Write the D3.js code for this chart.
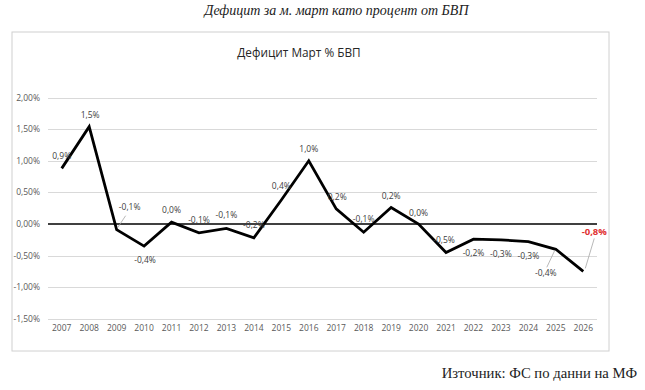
<!DOCTYPE html>
<html><head><meta charset="utf-8">
<script src="https://cdn.jsdelivr.net/npm/d3@7"></script>
<style>
html,body{margin:0;padding:0;background:#fff;}
svg{display:block;}
</style></head>
<body><svg id="c" width="645" height="390"></svg>
<script>
const years = ["2007","2008","2009","2010","2011","2012","2013","2014","2015","2016","2017","2018","2019","2020","2021","2022","2023","2024","2025","2026"];
const deficit = [0.88,1.54,-0.09,-0.35,0.03,-0.14,-0.07,-0.22,0.38,1.0,0.24,-0.13,0.26,0.0,-0.45,-0.24,-0.25,-0.28,-0.40,-0.75];
const valueLabels = ["0,9%","1,5%","-0,1%","-0,4%","0,0%","-0,1%","-0,1%","-0,2%","0,4%","1,0%","0,2%","-0,1%","0,2%","0,0%","-0,5%","-0,2%","-0,3%","-0,3%","-0,4%","-0,8%"];
const yTicks = [2.0,1.5,1.0,0.5,0.0,-0.5,-1.0,-1.5];
const yTickLabels = ["2,00%","1,50%","1,00%","0,50%","0,00%","-0,50%","-1,00%","-1,50%"];
const pageTitle = "Дефицит за м. март като процент от БВП";
const chartTitle = "Дефицит Март % БВП";
const sourceText = "Източник: ФС по данни на МФ";
// label placement offsets (layout only)
const labelOffsets = [[0,-12],[1,-12],[13,-23],[1,14],[0,-12],[0,-13],[0,-13],[0,-13],[0,-14],[0,-12],[1,-12],[0,-13],[0,-12],[0,-11],[-2,-12],[0,14],[0,14],[0,14],[-10,24],[11,-40]];
const leaders = {2:[[1,-2],[9,-14]], 18:[[-1,1],[-9,18]], 19:[[11,-33],[2,-3]]};

const svg = d3.select("#c");
const plotL = 48, plotR = 597, y0 = 224, unit = 63.2;
const x = d3.scaleBand().domain(years).range([plotL, plotR]);
const y = d3.scaleLinear().domain([-1.5, 2.0]).range([y0 + 1.5*unit, y0 - 2.0*unit]);

// page title
svg.append("text").attr("x",336.5).attr("y",15).attr("text-anchor","middle")
  .attr("font-family","Liberation Serif, serif").attr("font-style","italic").attr("font-size",14)
  .attr("fill","#222").text(pageTitle);

// chart box
svg.append("rect").attr("x",12).attr("y",32).attr("width",597).attr("height",319)
  .attr("fill","#fff").attr("stroke","#d0d0d0").attr("stroke-width",1);

svg.append("text").attr("x",299).attr("y",57).attr("text-anchor","middle")
  .attr("font-family","Open Sans, sans-serif").attr("font-size",11.8).attr("fill","#262626").text(chartTitle);

// gridlines
svg.append("g").selectAll("line").data(yTicks.filter(d=>d!==0)).join("line")
  .attr("x1",plotL).attr("x2",plotR).attr("y1",d=>Math.round(y(d))+0.5).attr("y2",d=>Math.round(y(d))+0.5)
  .attr("stroke","#d9d9d9").attr("stroke-width",1);

// y tick labels
svg.append("g").selectAll("text").data(yTicks).join("text")
  .attr("x",40).attr("y",d=>y(d)).attr("dy","0.35em").attr("text-anchor","end")
  .attr("font-family","Open Sans, sans-serif").attr("font-size",8.5).attr("fill","#595959")
  .text((d,i)=>yTickLabels[i]);

// x axis labels
const xAxis = d3.axisBottom(x).tickSize(0).tickPadding(0);
const gx = svg.append("g").attr("transform",`translate(0,${y(-1.5)+6})`).call(xAxis);
gx.select(".domain").remove();
gx.selectAll("text").attr("font-family","Open Sans, sans-serif").attr("font-size",8.5).attr("fill","#595959");

// zero line
svg.append("line").attr("x1",plotL).attr("x2",plotR).attr("y1",y(0)).attr("y2",y(0))
  .attr("stroke","#000").attr("stroke-width",1.4);

// line
const line = d3.line().x((d,i)=>x(years[i])+x.bandwidth()/2).y(d=>y(d));
svg.append("path").datum(deficit).attr("d",line).attr("fill","none")
  .attr("stroke","#000").attr("stroke-width",2.8).attr("stroke-linejoin","miter");

// leader lines
Object.keys(leaders).forEach(k=>{
  const i=+k, px=x(years[i])+x.bandwidth()/2, py=y(deficit[i]);
  const [a,b]=leaders[k];
  svg.append("line").attr("x1",px+a[0]).attr("y1",py+a[1]).attr("x2",px+b[0]).attr("y2",py+b[1])
    .attr("stroke","#a6a6a6").attr("stroke-width",0.8);
});

// value labels
svg.append("g").selectAll("text").data(deficit).join("text")
  .attr("x",(d,i)=>x(years[i])+x.bandwidth()/2+labelOffsets[i][0])
  .attr("y",(d,i)=>y(d)+labelOffsets[i][1]).attr("dy","0.35em").attr("text-anchor","middle")
  .attr("font-family","Open Sans, sans-serif")
  .attr("font-size",(d,i)=>i===19?9.5:8.5)
  .attr("font-weight",(d,i)=>i===19?"bold":"normal")
  .attr("fill",(d,i)=>i===19?"#e03030":"#404040")
  .text((d,i)=>valueLabels[i]);

// source
svg.append("text").attr("x",637).attr("y",378).attr("text-anchor","end")
  .attr("font-family","Liberation Serif, serif").attr("font-size",14.7).attr("fill","#222").text(sourceText);
</script></body></html>
